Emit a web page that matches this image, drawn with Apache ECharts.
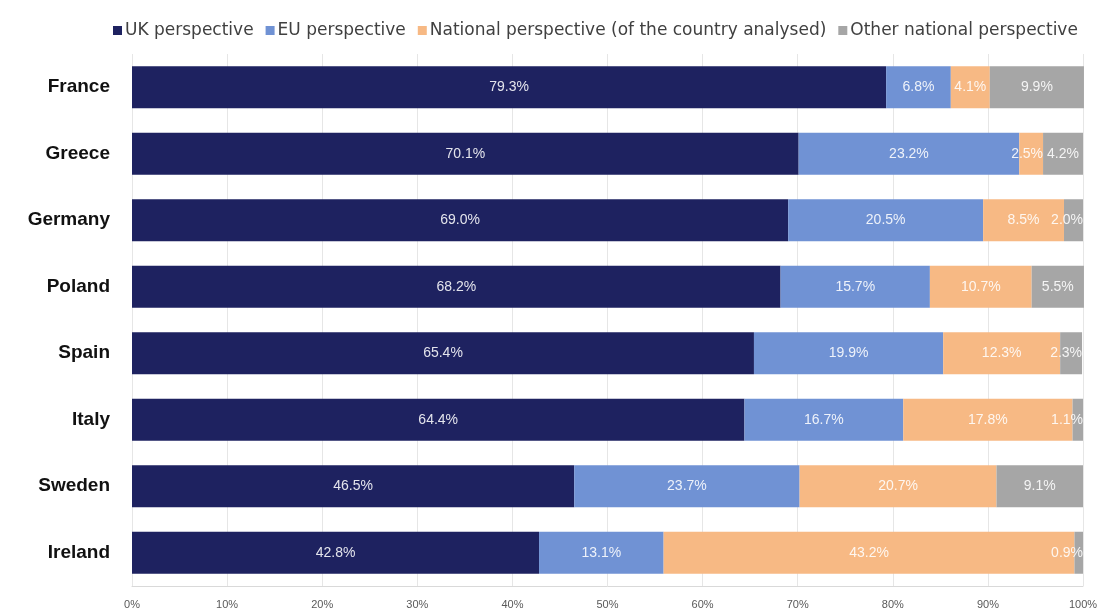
<!DOCTYPE html>
<html><head><meta charset="utf-8">
<script src="https://cdn.jsdelivr.net/npm/echarts@6/dist/echarts.min.js"></script>
<style>html,body{margin:0;padding:0;background:#fff}#c{width:1104px;height:613px}</style>
</head><body><div id="c"></div>
<script>
const countries = ['France','Greece','Germany','Poland','Spain','Italy','Sweden','Ireland'];
const seriesNames = ['UK perspective','EU perspective','National perspective (of the country analysed)','Other national perspective'];
const ukValues = [79.3,70.1,69.0,68.2,65.4,64.4,46.5,42.8];
const euValues = [6.8,23.2,20.5,15.7,19.9,16.7,23.7,13.1];
const nationalValues = [4.1,2.5,8.5,10.7,12.3,17.8,20.7,43.2];
const otherValues = [9.9,4.2,2.0,5.5,2.3,1.1,9.1,0.9];
const xTicks = [0,10,20,30,40,50,60,70,80,90,100];

const colors = ['#1e2260','#7092d4','#f7b984','#a6a6a6'];
const data = [ukValues, euValues, nationalValues, otherValues];
const chart = echarts.init(document.getElementById('c'));
chart.setOption({
  animation:false,
  legend:{
    top:17, left:108, itemWidth:9, itemHeight:9, itemGap:12,
    icon:'rect',
    textStyle:{fontFamily:'DejaVu Sans', fontSize:17, color:'#404040', padding:[0,0,0,-2]},
    data:seriesNames
  },
  grid:{left:132, right:21, top:54, bottom:27, containLabel:false},
  xAxis:{
    type:'value', min:0, max:100, interval:10,
    axisLabel:{formatter:v=>xTicks.includes(v)?v+'%':'', fontFamily:'Liberation Sans', fontSize:11, color:'#595959', margin:13},
    splitLine:{show:true, lineStyle:{color:'#e6e6e6'}},
    axisLine:{show:true, lineStyle:{color:'#d9d9d9'}},
    axisTick:{show:false}
  },
  yAxis:{
    type:'category', inverse:true, data:countries,
    axisLine:{show:false}, axisTick:{show:false},
    axisLabel:{fontFamily:'Liberation Sans', fontWeight:'bold', fontSize:19, color:'#111', margin:22}
  },
  series: seriesNames.map((n,i)=>({
    name:n, type:'bar', stack:'total', barWidth:42, clip:false,
    itemStyle:{color:colors[i]},
    label:{show:true, position:'inside', overflow:'none', formatter:p=>p.value.toFixed(1)+'%',
      color:'rgba(255,255,255,0.88)', fontFamily:'Liberation Sans', fontSize:14},
    labelLayout:{hideOverlap:false},
    data:data[i].map(v=> v < 3.5 ? {value:v, label:{position:'insideRight', distance:0}} : v)
  }))
});
</script></body></html>
